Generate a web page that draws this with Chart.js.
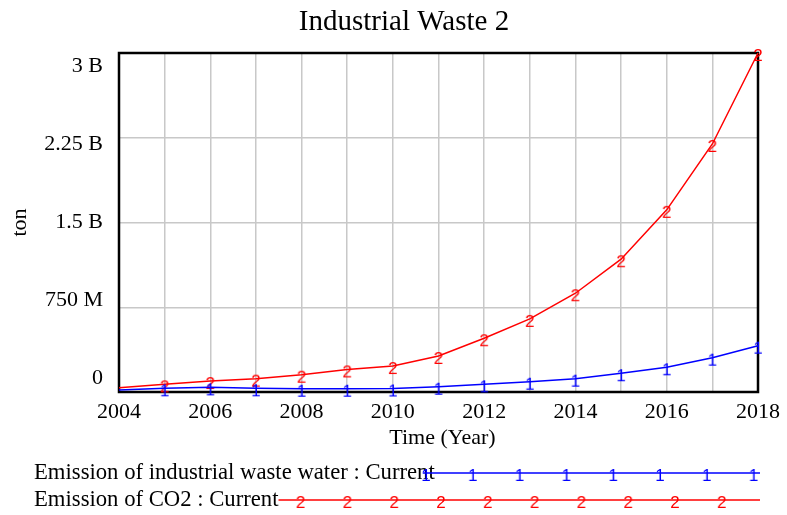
<!DOCTYPE html>
<html>
<head>
<meta charset="utf-8">
<title>Industrial Waste 2</title>
<script src="https://cdn.jsdelivr.net/npm/chart.js@4.4.1/dist/chart.umd.min.js"></script>
<style>
  html, body { margin: 0; padding: 0; background: #fff; }
  #wrap { width: 787px; height: 515px; }
</style>
</head>
<body>
<div id="wrap"><canvas id="wasteChart" width="787" height="515"></canvas></div>
<script>
// ============================================================
// Industrial Waste 2 — Vensim-style run comparison, redrawn
// ============================================================

// ---- data (tons) ----
const years = [2004, 2005, 2006, 2007, 2008, 2009, 2010, 2011, 2012, 2013, 2014, 2015, 2016, 2017, 2018];
const wasteWater = [18e6, 33e6, 41e6, 33e6, 29e6, 29e6, 31e6, 47e6, 68e6, 91e6, 118e6, 166e6, 219e6, 304e6, 410e6];
const co2 = [38e6, 68e6, 97e6, 118e6, 153e6, 200e6, 230e6, 319e6, 476e6, 647e6, 874e6, 1175e6, 1612e6, 2195e6, 3000e6];

const yTicks = [0, 750e6, 1.5e9, 2.25e9, 3e9];
const yTickLabels = ['0', '750 M', '1.5 B', '2.25 B', '3 B'];
const xLabelYears = [2004, 2006, 2008, 2010, 2012, 2014, 2016, 2018];

const seriesNames = ['Emission of industrial waste water : Current', 'Emission of CO2 : Current'];
const seriesColors = ['#0000ff', '#ff0000'];
const seriesDigits = ['1', '2'];

const SERIF = '"Liberation Serif", "Times New Roman", serif';
const MARKER_FONT = '17px "Liberation Sans", Arial, sans-serif';

// ------------------------------------------------------------
// Helpers
// ------------------------------------------------------------
// digit sits a few px below the point, as in the Vensim output
function makeDigitMarker(digit, color) {
  const c = document.createElement('canvas');
  c.width = 16;
  c.height = 24;
  const g = c.getContext('2d');
  g.fillStyle = color;
  g.font = MARKER_FONT;
  g.textAlign = 'center';
  g.textBaseline = 'middle';
  g.fillText(digit, 8, 15.5);
  return c;
}

const markers = seriesDigits.map((d, i) => makeDigitMarker(d, seriesColors[i]));

function dataset(i, values) {
  return {
    label: seriesNames[i],
    data: years.map((y, k) => ({ x: y, y: values[k] })),
    borderColor: seriesColors[i],
    borderWidth: 1.5,
    tension: 0,
    clip: false,
    pointStyle: (ctx) => (ctx.dataIndex === 0 ? false : markers[i]),
    pointRadius: 6,
    pointHoverRadius: 6,
  };
}

// frame, titles, y labels and the Vensim-like legend
const decorPlugin = {
  id: 'decor',
  beforeDatasetsDraw(chart) {
    const { ctx, chartArea: a } = chart;
    ctx.save();
    ctx.strokeStyle = '#000';
    ctx.lineWidth = 2.5;
    ctx.strokeRect(a.left, a.top, a.right - a.left, a.bottom - a.top);
    ctx.restore();
  },
  afterDraw(chart) {
    const { ctx, chartArea: a } = chart;
    const yScale = chart.scales.y;
    ctx.save();
    ctx.fillStyle = '#000';

    // title
    ctx.font = `29px ${SERIF}`;
    ctx.textAlign = 'center';
    ctx.textBaseline = 'middle';
    ctx.fillText('Industrial Waste 2', 404, 22);

    // x axis title
    ctx.font = `22px ${SERIF}`;
    ctx.fillText('Time (Year)', (a.left + a.right) / 2 + 4, 438);

    // y axis title
    ctx.save();
    ctx.translate(20, (a.top + a.bottom) / 2);
    ctx.rotate(-Math.PI / 2);
    ctx.fillText('ton', 0, 0);
    ctx.restore();

    // y tick labels, pulled slightly toward the middle like Vensim does
    const mid = (a.top + a.bottom) / 2;
    ctx.textAlign = 'right';
    yTicks.forEach((v, i) => {
      const py = yScale.getPixelForValue(v);
      ctx.fillText(yTickLabels[i], 103, py + (mid - py) * 0.079);
    });

    // legend rows
    const rowY = [473, 500];
    const firstMarker = [426, 300.6];
    seriesNames.forEach((name, i) => {
      ctx.font = `22.7px ${SERIF}`;
      ctx.textAlign = 'left';
      ctx.fillStyle = '#000';
      ctx.fillText(name, 34, rowY[i]);
      const start = 34 + ctx.measureText(name).width;
      ctx.strokeStyle = seriesColors[i];
      ctx.lineWidth = 1.5;
      ctx.beginPath();
      ctx.moveTo(start - (i === 0 ? 12 : 0), rowY[i]);
      ctx.lineTo(760, rowY[i]);
      ctx.stroke();
      for (let x = firstMarker[i]; x < 758; x += 46.8) {
        ctx.drawImage(markers[i], x - markers[i].width / 2, rowY[i] - markers[i].height / 2);
      }
    });
    ctx.restore();
  },
};

// ------------------------------------------------------------
// Chart
// ------------------------------------------------------------
new Chart(document.getElementById('wasteChart'), {
  type: 'line',
  data: { datasets: [dataset(0, wasteWater), dataset(1, co2)] },
  options: {
    responsive: false,
    animation: false,
    events: [],
    layout: { padding: { top: 53, right: 28, left: 0, bottom: 0 } },
    plugins: { legend: { display: false }, title: { display: false }, tooltip: { enabled: false } },
    scales: {
      x: {
        type: 'linear',
        min: 2004,
        max: 2018,
        afterFit: (s) => { s.height = 123; },
        afterBuildTicks: (s) => { s.ticks = years.map((v) => ({ value: v })); },
        ticks: {
          autoSkip: false,
          maxRotation: 0,
          padding: 7,
          color: '#000',
          font: { family: SERIF, size: 22 },
          callback: (v) => (xLabelYears.includes(v) ? String(v) : ''),
        },
        grid: { color: '#c8c8c8', lineWidth: 1.5, drawTicks: false },
        border: { display: false },
      },
      y: {
        min: 0,
        max: 3e9,
        afterFit: (s) => { s.width = 119; },
        afterBuildTicks: (s) => { s.ticks = yTicks.map((v) => ({ value: v })); },
        ticks: { display: false },
        grid: { color: '#c8c8c8', lineWidth: 1.5, drawTicks: false },
        border: { display: false },
      },
    },
  },
  plugins: [decorPlugin],
});
</script>
</body>
</html>
